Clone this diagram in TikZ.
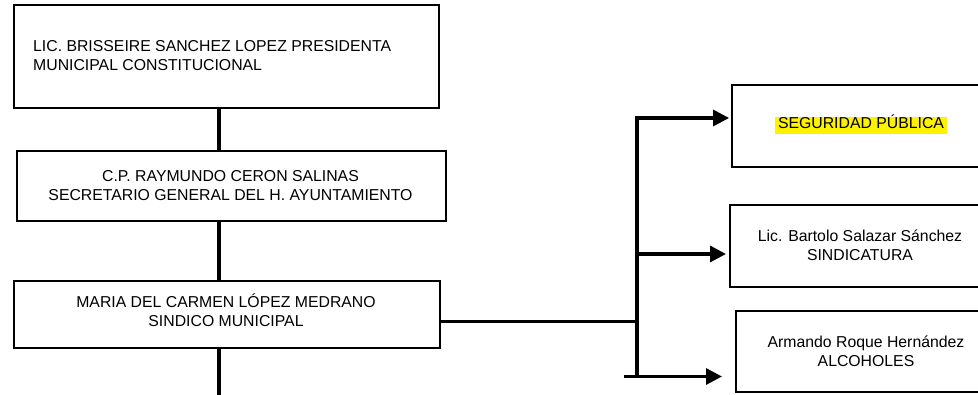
\documentclass[tikz,border=0pt]{standalone}
\usepackage{fontspec}
\setmainfont{Liberation Sans}
\usetikzlibrary{arrows.meta}
\tikzset{
  box/.style={draw=black, line width=2pt, fill=white, inner sep=0pt, anchor=north west},
  txt/.style={font=\fontsize{15.8}{19}\selectfont, inner sep=0pt, align=center},
  conn/.style={line width=3.6pt},
  arr/.style={line width=3.2pt, -{Triangle[length=16pt,width=16pt]}},
  hl/.style={fill=yellow, inner xsep=3.5pt, inner ysep=0pt, text height=12pt, text depth=5pt}
}
\begin{document}
\begin{tikzpicture}[x=1pt,y=-1pt]
\useasboundingbox (0,0) rectangle (978,395);
\begin{scope}
\clip (0,0) rectangle (978,395);
% left column boxes
\node[box, minimum width=425pt, minimum height=102.7pt] (b1) at (12.7,4) {};
\node[txt, anchor=west, align=left] (t1) at (33,55.5) {LIC. BRISSEIRE SANCHEZ LOPEZ PRESIDENTA\\MUNICIPAL CONSTITUCIONAL};
\node[box, minimum width=429pt, minimum height=70pt] (b2) at (16,150) {};
\node[txt] (t2) at (230.5,185.5) {C.P. RAYMUNDO CERON SALINAS\\SECRETARIO GENERAL DEL H. AYUNTAMIENTO};
\node[box, minimum width=426.3pt, minimum height=67pt] (b3) at (12.7,280) {};
\node[txt] (t3) at (226,310) {MARIA DEL CARMEN LÓPEZ MEDRANO\\SINDICO MUNICIPAL};
% right column boxes
\node[box, minimum width=300pt, minimum height=82pt] (r1) at (730.6,84) {};
\node[txt, hl] (s1) at (861,125.5) {SEGURIDAD PÚBLICA};
\node[box, minimum width=300pt, minimum height=82pt] (r2) at (729,204) {};
\node[txt] (s2) at (860,245) {Lic. Bartolo Salazar Sánchez\\SINDICATURA};
\node[box, minimum width=300pt, minimum height=81pt] (r3) at (735,310) {};
\node[txt] (s3) at (866,351) {Armando Roque Hernández\\ALCOHOLES};
% vertical connectors on the left
\coordinate (v) at (219,0);
\coordinate (bot) at (219,400);
\draw[conn] (b1.south -| v) -- (b2.north -| v);
\draw[conn] (b2.south -| v) -- (b3.north -| v);
\draw[conn] (b3.south -| v) -- (bot);
% branch to the right
\coordinate (tk1) at (637,117);
\coordinate (tkm) at (637,321.5);
\coordinate (tk2) at (637,254);
\coordinate (tk3) at (637,378);
\coordinate (a1) at (637,118);
\coordinate (a3) at (624,376.5);
\draw[line width=3pt] (b3.east |- tkm) -- (tkm);
\draw[line width=3.8pt] (tk1) -- (tk3);
\draw[arr] ([xshift=-1.9pt]a1) -- ([xshift=-1.5pt]a1 -| r1.west);
\draw[arr] (tk2) -- ([xshift=-3pt]tk2 -| r2.west);
\draw[arr] (a3) -- ([xshift=-13pt]a3 -| r3.west);
\end{scope}
\end{tikzpicture}
\end{document}
